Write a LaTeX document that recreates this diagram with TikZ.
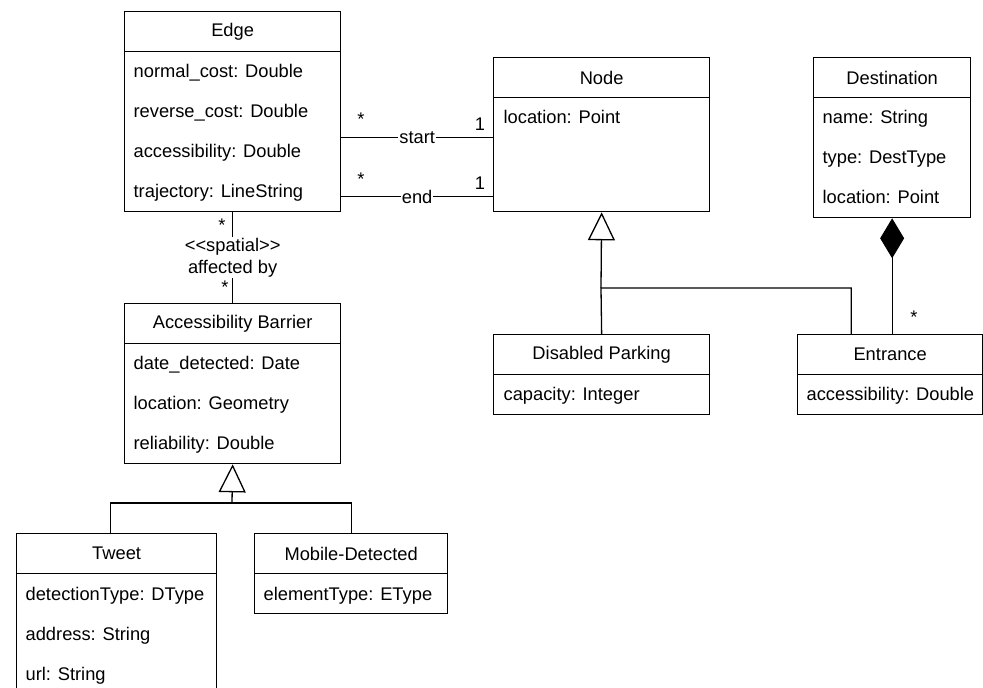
\documentclass[tikz,border=0pt]{standalone}
\usepackage{fontspec}
\setmainfont{Liberation Sans}
\usetikzlibrary{arrows.meta}

\begin{document}
\begin{tikzpicture}
        [x=1pt, y=-1pt, line width=1.3pt,
        font=\fontsize{18.3}{22}\selectfont,
        head/.style={draw, minimum width=#1, minimum height=40pt, anchor=north west, inner sep=0pt},
        body/.style n args={2}{draw, minimum width=#1, minimum height=#2, anchor=north west, inner sep=0pt},
        attr/.style={anchor=west, inner sep=0pt, text height=13pt, text depth=0pt},
        mult/.style={inner sep=0pt},
        role/.style={fill=white, inner sep=1pt, align=center},
        edge/.style={black},
        inherit/.style={black, -{Triangle[open, length=28pt, width=27pt]}},
        compose/.style={black, -{Diamond[length=40pt, width=24pt]}}]

        \useasboundingbox (0,0) rectangle (983,688);

        % class Edge
        \node[head=216pt] (edge) at (124, 11) {Edge};
        \node[body={216pt}{160pt}] (edge-b) at (124, 51) {};
        \node[attr] (edge-a1) at (133, 71) {normal\_cost: Double};
        \node[attr] (edge-a2) at (133, 111) {reverse\_cost: Double};
        \node[attr] (edge-a3) at (133, 151) {accessibility: Double};
        \node[attr] (edge-a4) at (133, 191) {trajectory: LineString};

        % class Node
        \node[head=216pt] (node) at (493, 57) {Node};
        \node[body={216pt}{114pt}] (node-b) at (493, 97) {};
        \node[attr] (node-a1) at (503, 117) {location: Point};

        % class Destination
        \node[head=157pt] (dest) at (813, 57) {Destination};
        \node[body={157pt}{120pt}] (dest-b) at (813, 97) {};
        \node[attr] (dest-a1) at (822, 117) {name: String};
        \node[attr] (dest-a2) at (822, 157) {type: DestType};
        \node[attr] (dest-a3) at (822, 197) {location: Point};

        % class Accessibility Barrier
        \node[head=216pt] (barrier) at (124, 303) {Accessibility Barrier};
        \node[body={216pt}{120pt}] (barrier-b) at (124, 343) {};
        \node[attr] (barrier-a1) at (133, 363) {date\_detected: Date};
        \node[attr] (barrier-a2) at (133, 403) {location: Geometry};
        \node[attr] (barrier-a3) at (133, 443) {reliability: Double};

        % class Tweet
        \node[head=200pt] (tweet) at (16, 533) {Tweet};
        \node[body={200pt}{120pt}] (tweet-b) at (16, 573) {};
        \node[attr] (tweet-a1) at (25, 594) {detectionType: DType};
        \node[attr] (tweet-a2) at (25, 634) {address: String};
        \node[attr] (tweet-a3) at (25, 674) {url: String};

        % class Mobile-Detected
        \node[head=193pt] (mobile) at (254, 533) {Mobile-Detected};
        \node[body={193pt}{40pt}] (mobile-b) at (254, 573) {};
        \node[attr] (mobile-a1) at (263, 594) {elementType: EType};

        % class Disabled Parking
        \node[head=216pt] (parking) at (493, 334) {Disabled Parking};
        \node[body={216pt}{40pt}] (parking-b) at (493, 374) {};
        \node[attr] (parking-a1) at (503, 394) {capacity: Integer};

        % class Entrance
        \node[head=185pt] (entrance) at (797, 334) {Entrance};
        \node[body={185pt}{40pt}] (entrance-b) at (797, 374) {};
        \node[attr] (entrance-a1) at (806, 394) {accessibility: Double};

        % associations Edge -- Node
        \draw[edge] ([yshift=-6pt]edge-b.east) -- ([yshift=-6pt]edge-b.east -| node-b.west)
                node[midway, role] (start) {start};
        \draw[edge] ([yshift=-65pt]edge-b.east) -- ([yshift=-65pt]edge-b.east -| node-b.west)
                node[midway, role] (end) {end};
        \node[mult] (m-s1) at (361, 119) {*};
        \node[mult] (m-s2) at (480, 124) {1};
        \node[mult] (m-e1) at (361, 179) {*};
        \node[mult] (m-e2) at (480, 183) {1};

        % spatial association Edge -- Accessibility Barrier
        \draw[edge] (edge-b.south) -- (barrier.north)
                node[midway, role] (spatial) {<\kern0pt<spatial>\kern0pt>\\affected by};
        \node[mult] (m-b1) at (222, 225) {*};
        \node[mult] (m-b2) at (225, 287) {*};

        % generalisation of Accessibility Barrier
        \coordinate (bsplit) at (232, 503);
        \draw[edge] ([xshift=-6pt]tweet.north) |- (bsplit) -| (mobile.north);
        \draw[inherit] (bsplit) -- (barrier-b.south);

        % generalisation of Node
        \coordinate (nsplit) at (601, 288);
        \draw[edge] (parking.north) -- (nsplit) -| ([xshift=-39pt]entrance.north);
        \draw[inherit] (nsplit) -- (node-b.south);

        % composition Destination -- Entrance
        \draw[compose] (dest-b.south |- entrance.north) -- (dest-b.south);
        \node[mult] (m-c1) at (914, 317) {*};

    \end{tikzpicture}
\end{document}
